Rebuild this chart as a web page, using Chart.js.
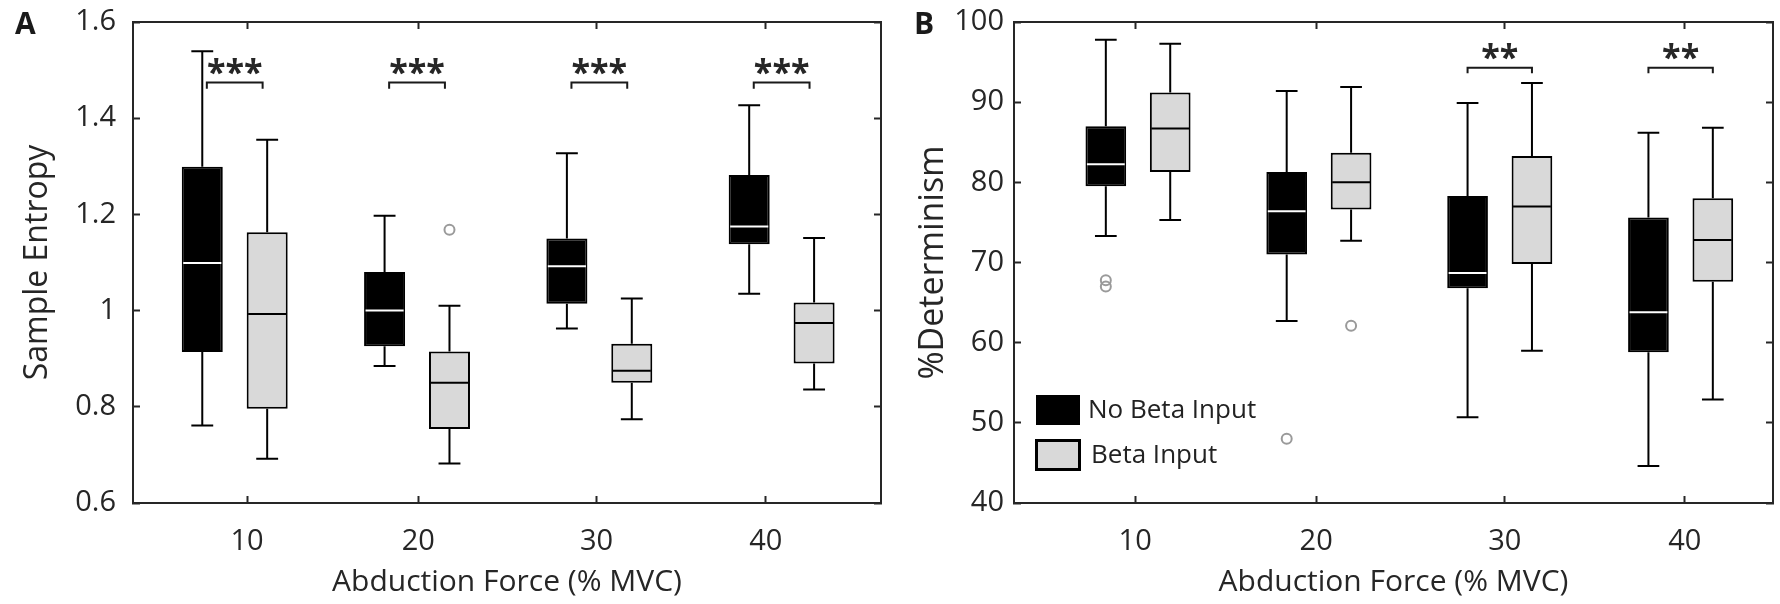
<!DOCTYPE html>
<html>
<head>
<meta charset="utf-8">
<script src="https://cdn.jsdelivr.net/npm/chart.js@4.4.1/dist/chart.umd.min.js"></script>
<style>
body{margin:0;background:#fff;}
#wrap{position:relative;width:1780px;height:604px;font-family:"Open Sans",sans-serif;}
canvas{position:absolute;top:0;}
.tag{position:absolute;top:8px;font-weight:bold;font-size:30px;line-height:30px;color:#1a1a1a;}
.key{position:absolute;box-sizing:border-box;}
.keytxt{position:absolute;font-size:26px;line-height:30px;color:#222;white-space:nowrap;}
</style>
</head>
<body>
<div id="wrap">
<canvas id="chartA" width="890" height="604" style="left:0"></canvas>
<canvas id="chartB" width="890" height="604" style="left:890px"></canvas>
<div class="tag" style="left:15px">A</div>
<div class="tag" style="left:914px">B</div>
<div class="key" style="left:1036px;top:395px;width:44px;height:30px;background:#000"></div>
<div class="key" style="left:1035px;top:439px;width:46px;height:32px;background:#d9d9d9;border:3px solid #000"></div>
<div class="keytxt" style="left:1088px;top:393px">No Beta Input</div>
<div class="keytxt" style="left:1091px;top:438px">Beta Input</div>
</div>
<script>
const force_labels = ['10', '20', '30', '40'];
const group_pos = [1, 2, 3, 4];

// A - sample entropy
const ent_tick_pos = [1.068, 2.007, 2.985, 3.913];
const ent_y_ticks = [0.6, 0.8, 1, 1.2, 1.4, 1.6];
const ent_nobeta_low  = [0.761, 0.885, 0.963, 1.035];
const ent_nobeta_q1   = [0.914, 0.926, 1.014, 1.138];
const ent_nobeta_med  = [1.099, 1.000, 1.092, 1.175];
const ent_nobeta_q3   = [1.299, 1.080, 1.150, 1.282];
const ent_nobeta_high = [1.539, 1.197, 1.327, 1.427];
const ent_nobeta_out  = [[], [], [], []];
const ent_beta_low  = [0.692, 0.682, 0.774, 0.836];
const ent_beta_q1   = [0.796, 0.754, 0.850, 0.890];
const ent_beta_med  = [0.993, 0.850, 0.875, 0.974];
const ent_beta_q3   = [1.163, 0.915, 0.931, 1.017];
const ent_beta_high = [1.355, 1.010, 1.025, 1.151];
const ent_beta_out  = [[], [1.168], [], []];
const ent_sig = ['***', '***', '***', '***'];
const ent_sig_top = 1.474;
const ent_sig_foot = 1.461;
const ent_star_level = 1.491;

// B - determinism
const det_tick_pos = [0.984, 1.985, 3.028, 4.023];
const det_y_ticks = [40, 50, 60, 70, 80, 90, 100];
const det_nobeta_low  = [73.3, 62.7, 50.7, 44.6];
const det_nobeta_q1   = [79.5, 71.0, 66.8, 58.8];
const det_nobeta_med  = [82.25, 76.4, 68.7, 63.8];
const det_nobeta_q3   = [87.0, 81.3, 78.3, 75.6];
const det_nobeta_high = [97.8, 91.4, 89.9, 86.2];
const det_nobeta_out  = [[67.8, 67.0], [48.0], [], []];
const det_beta_low  = [75.3, 72.7, 59.0, 52.9];
const det_beta_q1   = [81.3, 76.6, 69.8, 67.6];
const det_beta_med  = [86.7, 80.0, 77.0, 72.8];
const det_beta_q3   = [91.2, 83.7, 83.3, 78.0];
const det_beta_high = [97.3, 91.9, 92.4, 86.8];
const det_beta_out  = [[], [62.1], [], []];
const det_sig = ['', '', '**', '**'];
const det_sig_top = 94.3;
const det_sig_foot = 93.6;
const det_star_level = 95.4;

const BOX_SHIFT = 0.178;                  // box centre from group centre
const BOX_BAR = 0.632;                    // box width as part of the gap between the two boxes
const BOX_HALF = BOX_SHIFT * BOX_BAR;     // half box width
const CAP_HALF = 0.06;
const MED_INSET = 0.008;
const INK = '#262626';
const FONT = '"Open Sans", sans-serif';

const starPlugin = {
    id: 'stars',
    afterDatasetsDraw(chart, args, opts){
        const ctx = chart.ctx;
        const x = chart.scales.x, y = chart.scales.y;
        ctx.save();
        ctx.font = 'bold 34px ' + FONT;
        ctx.fillStyle = INK;
        ctx.textAlign = 'center';
        ctx.textBaseline = 'middle';
        for (let i=0; i<opts.marks.length; i++){
            if (opts.marks[i]) ctx.fillText(opts.marks[i], x.getPixelForValue(group_pos[i]), y.getPixelForValue(opts.level));
        }
        ctx.restore();
    }
};

class BoxPanel{
    constructor(panel){
        this.panel = panel;
    }

    // short straight pieces in one dataset, broken by null points
    seg_data(segs){
        const pts = [];
        for (let i=0; i<segs.length; i++){
            const s = segs[i];
            pts.push({x: s[0], y: s[1]}, {x: s[2], y: s[3]}, {x: s[2], y: null});
        }
        return pts;
    }

    line_set(data, color){
        return {type: 'line', data: data, xAxisID: 'x', yAxisID: 'y', borderColor: color, borderWidth: 2,
                pointRadius: 0, fill: false, tension: 0, spanGaps: false, borderCapStyle: 'butt',
                borderJoinStyle: 'miter', order: 1};
    }

    box_set(st, shift, fill){
        return {type: 'bar', data: group_pos.map((g, i) => ({x: g + shift, y: [st.q1[i], st.q3[i]]})),
                xAxisID: 'x', yAxisID: 'y', grouped: false, categoryPercentage: 1, barPercentage: BOX_BAR,
                backgroundColor: fill, borderColor: '#000', borderWidth: 2, borderSkipped: false, order: 3};
    }

    build_sets(){
        const p = this.panel;
        const whiskers = [], caps = [], white_med = [], black_med = [], outliers = [], brackets = [];
        const series = [[p.nobeta, -BOX_SHIFT, white_med], [p.beta, BOX_SHIFT, black_med]];
        series.forEach(function(item){
            const st = item[0];
            for (let i=0; i<group_pos.length; i++){
                const c = group_pos[i] + item[1];
                whiskers.push([c, st.q3[i], c, st.high[i]], [c, st.q1[i], c, st.low[i]]);
                caps.push([c-CAP_HALF, st.high[i], c+CAP_HALF, st.high[i]], [c-CAP_HALF, st.low[i], c+CAP_HALF, st.low[i]]);
                item[2].push([c-BOX_HALF+MED_INSET, st.med[i], c+BOX_HALF-MED_INSET, st.med[i]]);
                st.out[i].forEach(v => outliers.push({x: c, y: v}));
            }
        });
        for (let i=0; i<group_pos.length; i++){
            if (!p.sig[i]) continue;
            const a = group_pos[i] - p.bracket_half, b = group_pos[i] + p.bracket_half;
            brackets.push({x: a, y: p.sig_foot}, {x: a, y: p.sig_top}, {x: b, y: p.sig_top}, {x: b, y: p.sig_foot}, {x: b, y: null});
        }
        return [
            this.box_set(p.nobeta, -BOX_SHIFT, '#000'),
            this.box_set(p.beta, BOX_SHIFT, '#d9d9d9'),
            this.line_set(this.seg_data(whiskers), '#000'),
            this.line_set(this.seg_data(caps), '#000'),
            this.line_set(this.seg_data(white_med), '#fff'),
            this.line_set(this.seg_data(black_med), '#000'),
            this.line_set(brackets, '#1a1a1a'),
            {type: 'scatter', data: outliers, xAxisID: 'x', yAxisID: 'y', showLine: false, pointStyle: 'circle',
             pointRadius: 5, borderWidth: 2, borderColor: '#9a9a9a', backgroundColor: 'rgba(0,0,0,0)', order: 0}
        ];
    }

    build_chart(){
        const p = this.panel;
        const set_ticks = vals => (s => { s.ticks = vals.map(v => ({value: v})); });
        // fixed axis size, and no extra room asked for the end labels
        const fix_size = (key, size) => (s => {
            s[key] = size;
            s.paddingTop = 0; s.paddingBottom = 0; s.paddingLeft = 0; s.paddingRight = 0;
        });
        const grid = {drawOnChartArea: false, offset: false, tickLength: -7, tickWidth: 2, tickColor: INK};
        const border = {color: INK, width: 2};
        new Chart(document.getElementById(p.id), {
            type: 'scatter',
            data: {datasets: this.build_sets()},
            options: {
                responsive: false,
                animation: false,
                devicePixelRatio: 1,
                layout: {padding: {top: 22, right: p.pad_right, left: 0, bottom: 0}},
                plugins: {legend: {display: false}, tooltip: {enabled: false},
                          stars: {marks: p.sig, level: p.star_level}},
                scales: {
                    x: {type: 'linear', position: 'bottom', min: p.x_min, max: p.x_max, offset: false,
                        afterBuildTicks: set_ticks(p.tick_pos), afterFit: fix_size('height', 101),
                        grid: grid, border: border,
                        ticks: {padding: 28, color: INK, font: {family: FONT, size: 29}, maxRotation: 0, autoSkip: false,
                                callback: (v, i) => force_labels[i]},
                        title: {display: true, text: 'Abduction Force (% MVC)', color: INK,
                                font: {family: FONT, size: 30}, padding: {top: 0, bottom: 4}}},
                    xt: {type: 'linear', position: 'top', min: p.x_min, max: p.x_max, offset: false,
                         afterBuildTicks: set_ticks(p.tick_pos), afterFit: fix_size('height', 0),
                         grid: grid, border: border, ticks: {display: false}},
                    y: {type: 'linear', position: 'left', min: p.y_ticks[0], max: p.y_ticks[p.y_ticks.length-1],
                        afterBuildTicks: set_ticks(p.y_ticks), afterFit: fix_size('width', p.y_width),
                        grid: grid, border: border,
                        ticks: {padding: p.y_pad, color: INK, font: {family: FONT, size: 29}, callback: v => String(v)},
                        title: {display: true, text: p.y_title, color: INK,
                                font: {family: FONT, size: p.y_title_size}, padding: {top: p.y_title_pad, bottom: 0}}},
                    yr: {type: 'linear', position: 'right', min: p.y_ticks[0], max: p.y_ticks[p.y_ticks.length-1],
                         afterBuildTicks: set_ticks(p.y_ticks), afterFit: fix_size('width', 0),
                         grid: grid, border: border, ticks: {display: false}}
                }
            },
            plugins: [starPlugin]
        });
    }
}

const panel_a = {
    id: 'chartA', y_title: 'Sample Entropy', y_ticks: ent_y_ticks, tick_pos: ent_tick_pos,
    x_min: 0.442, x_max: 4.545, y_width: 133, pad_right: 9, y_pad: 24, y_title_pad: 19, y_title_size: 32,
    nobeta: {low: ent_nobeta_low, q1: ent_nobeta_q1, med: ent_nobeta_med, q3: ent_nobeta_q3, high: ent_nobeta_high, out: ent_nobeta_out},
    beta: {low: ent_beta_low, q1: ent_beta_q1, med: ent_beta_med, q3: ent_beta_q3, high: ent_beta_high, out: ent_beta_out},
    sig: ent_sig, sig_top: ent_sig_top, sig_foot: ent_sig_foot, star_level: ent_star_level, bracket_half: 0.153
};

const panel_b = {
    id: 'chartB', y_title: '%Determinism', y_ticks: det_y_ticks, tick_pos: det_tick_pos,
    x_min: 0.3143, x_max: 4.5107, y_width: 124, pad_right: 1, y_pad: 17, y_title_pad: 23, y_title_size: 34,
    nobeta: {low: det_nobeta_low, q1: det_nobeta_q1, med: det_nobeta_med, q3: det_nobeta_q3, high: det_nobeta_high, out: det_nobeta_out},
    beta: {low: det_beta_low, q1: det_beta_q1, med: det_beta_med, q3: det_beta_q3, high: det_beta_high, out: det_beta_out},
    sig: det_sig, sig_top: det_sig_top, sig_foot: det_sig_foot, star_level: det_star_level, bracket_half: BOX_SHIFT
};

Promise.all([document.fonts.load('30px "Open Sans"'), document.fonts.load('bold 34px "Open Sans"')]).finally(function(){
    new BoxPanel(panel_a).build_chart();
    new BoxPanel(panel_b).build_chart();
});
</script>
</body>
</html>
